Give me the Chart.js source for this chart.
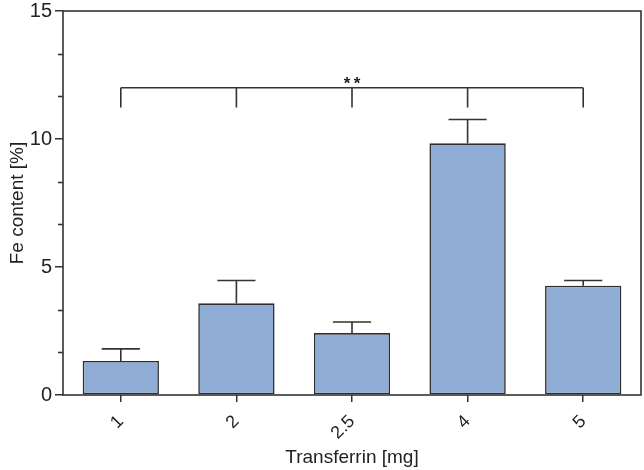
<!DOCTYPE html>
<html><head><meta charset="utf-8">
<script src="https://cdn.jsdelivr.net/npm/chart.js@4"></script>
<style>html,body{margin:0;padding:0;background:#fff}#wrap{width:644px;height:470px;position:relative}</style>
</head><body><div id="wrap"><canvas id="c"></canvas></div>
<script>
const categories = ['1', '2', '2.5', '4', '5'];
const feContent = [1.33, 3.58, 2.42, 9.83, 4.27];
const feError = [0.47, 0.89, 0.43, 0.93, 0.20];
const yTicks = [0, 5, 10, 15];
const yMinorTicks = [1.667, 3.333, 6.667, 8.333, 11.667, 13.333];
const bracketLevel = 12.0;
const bracketDrop = 11.23;
const bracketMarks = ['*', '*'];

const FONT = "'Liberation Sans', Arial, sans-serif";
const INK = '#333333';

const overlay = {
  id: 'overlay',
  afterDatasetsDraw(chart) {
    const ctx = chart.ctx, ys = chart.scales.y;
    const meta = chart.getDatasetMeta(0);
    const area = chart.chartArea;
    ctx.save();
    ctx.strokeStyle = INK;
    ctx.lineWidth = 1.6;
    ctx.lineCap = 'butt';
    // error bars
    meta.data.forEach((bar, i) => {
      const top = ys.getPixelForValue(feContent[i] + feError[i]);
      const half = bar.width * 0.25;
      ctx.beginPath();
      ctx.moveTo(bar.x, bar.y);
      ctx.lineTo(bar.x, top);
      ctx.moveTo(bar.x - half, top);
      ctx.lineTo(bar.x + half, top);
      ctx.stroke();
    });
    // frame
    ctx.strokeRect(area.left, area.top, area.right - area.left, area.bottom - area.top);
    // minor y ticks
    yMinorTicks.forEach(v => {
      const py = Math.round(ys.getPixelForValue(v)) + 0.5;
      ctx.beginPath();
      ctx.moveTo(area.left - 5, py);
      ctx.lineTo(area.left, py);
      ctx.stroke();
    });
    // significance bracket
    const by = ys.getPixelForValue(bracketLevel);
    const bd = ys.getPixelForValue(bracketDrop);
    const first = meta.data[0];
    const last = meta.data[meta.data.length - 1];
    ctx.beginPath();
    ctx.moveTo(first.x, by);
    ctx.lineTo(last.x, by);
    meta.data.forEach(bar => {
      ctx.moveTo(bar.x, by);
      ctx.lineTo(bar.x, bd);
    });
    ctx.stroke();
    const mid = meta.data[Math.floor(meta.data.length / 2)];
    ctx.fillStyle = '#222';
    ctx.font = "bold 17px " + FONT;
    ctx.textAlign = 'center';
    ctx.textBaseline = 'alphabetic';
    const gap = 10;
    bracketMarks.forEach((m, k) => {
      const off = (k - (bracketMarks.length - 1) / 2) * gap;
      ctx.fillText(m, mid.x + off, by + 1);
    });
    ctx.restore();
  }
};

new Chart(document.getElementById('c'), {
  type: 'bar',
  data: {
    labels: categories,
    datasets: [{
      data: feContent,
      backgroundColor: '#8EACD4',
      borderColor: '#2e2e2e',
      borderWidth: 1.6,
      borderSkipped: false,
      barPercentage: 0.66,
      categoryPercentage: 1.0
    }]
  },
  options: {
    responsive: true,
    maintainAspectRatio: false,
    animation: false,
    devicePixelRatio: 1,
    layout: { padding: { top: 11, right: 3, left: 0, bottom: 0 } },
    plugins: { legend: { display: false }, tooltip: { enabled: false } },
    scales: {
      x: {
        offset: true,
        afterFit(scale) { scale.height = 75; scale.paddingLeft = 0; scale.paddingRight = 0; },
        border: { display: false },
        grid: { display: true, offset: false, drawOnChartArea: false, drawTicks: true, tickLength: 7, color: INK, lineWidth: 1.5 },
        ticks: { minRotation: 45, maxRotation: 45, padding: 9, color: '#222', font: { family: FONT, size: 18 } },
        title: { display: true, text: 'Transferrin [mg]', color: '#222', font: { family: FONT, size: 19 }, padding: { top: 0, bottom: 1 } }
      },
      y: {
        min: 0, max: 15,
        afterFit(scale) { scale.width = 63; scale.paddingTop = 0; scale.paddingBottom = 0; },
        afterBuildTicks(scale) { scale.ticks = yTicks.map(v => ({ value: v })); },
        border: { display: false },
        grid: { display: true, drawOnChartArea: false, drawTicks: true, tickLength: 8, color: INK, lineWidth: 1.5 },
        ticks: { padding: 3, color: '#222', font: { family: FONT, size: 20 } },
        title: { display: true, text: 'Fe content [%]', color: '#222', font: { family: FONT, size: 19 }, padding: { top: 6, bottom: 0 } }
      }
    }
  },
  plugins: [overlay]
});
</script>
</body></html>
